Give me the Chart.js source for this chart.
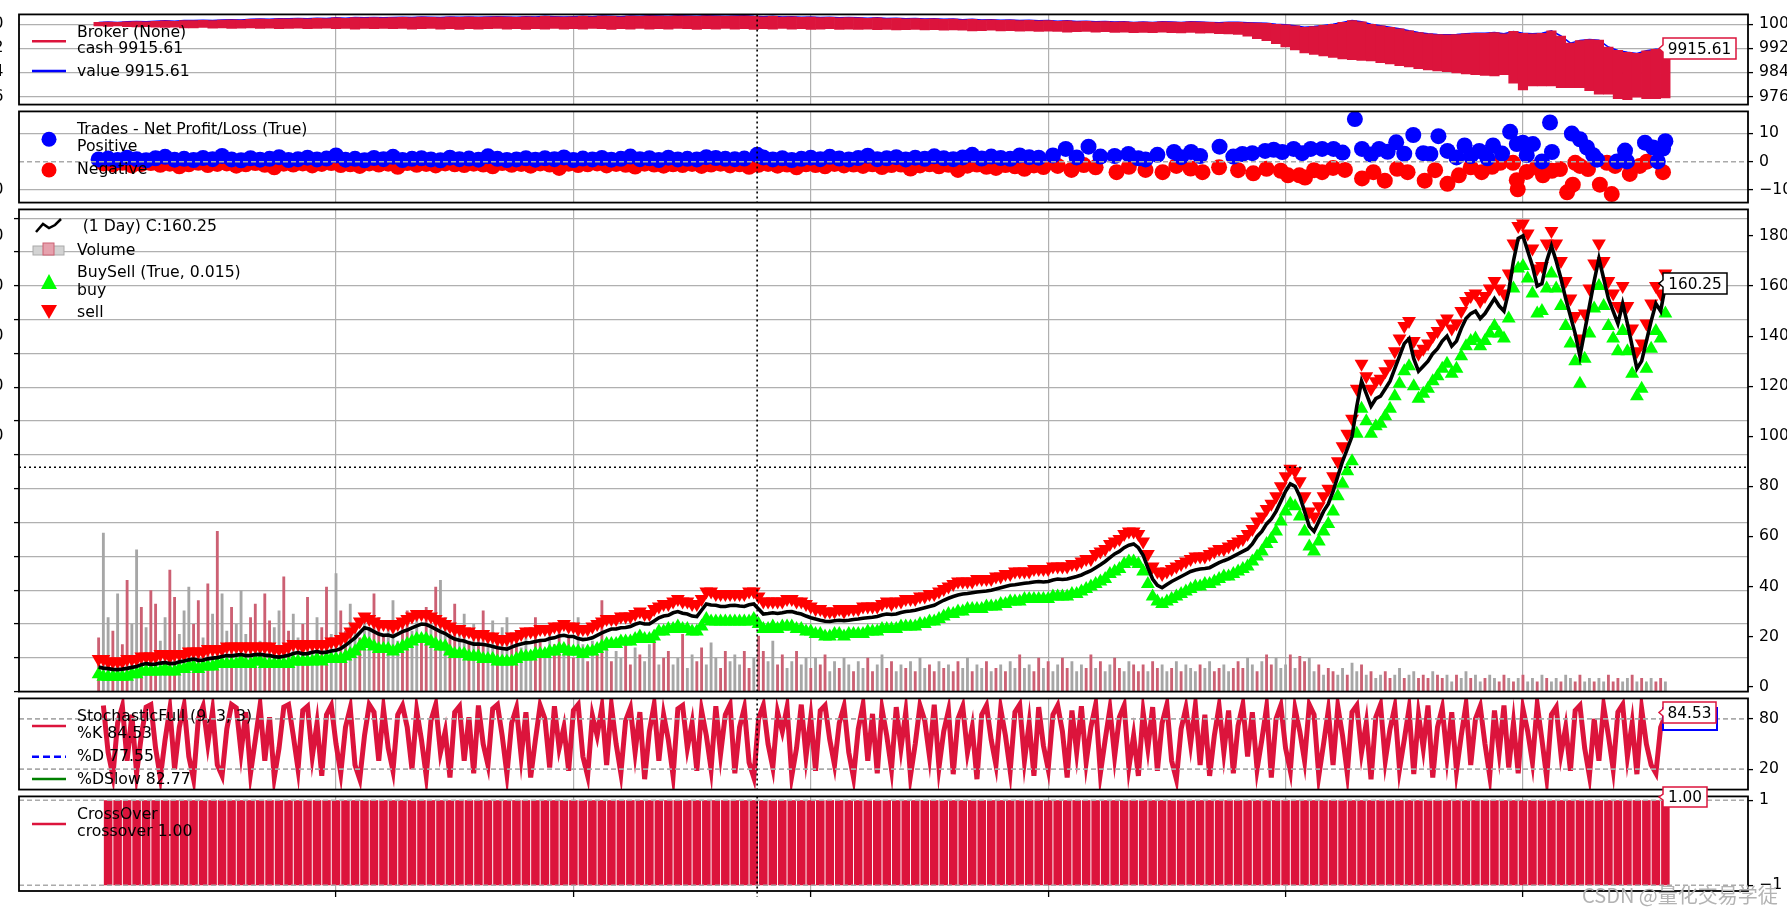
<!DOCTYPE html>
<html>
<head>
<meta charset="utf-8">
<script src="https://cdn.jsdelivr.net/npm/chart.js@4.4.1/dist/chart.umd.min.js"></script>
<style>
  body { margin: 0; background: #fff; width: 1787px; height: 914px; overflow: hidden; position: relative; }
  canvas { position: absolute; left: 0; }
  #ov { position: absolute; left: 0; top: 0; }
</style>
</head>
<body>
<canvas id="pBroker"></canvas>
<canvas id="pTrades"></canvas>
<canvas id="pPrice"></canvas>
<canvas id="pStoch"></canvas>
<canvas id="pCross"></canvas>

<svg id="ov" width="1787" height="914" font-family="DejaVu Sans" font-size="15.7">
  <!-- broker legend -->
  <line x1="32" y1="41.3" x2="66" y2="41.3" stroke="#dc143c" stroke-width="2.5"/>
  <text x="77" y="31.7" dominant-baseline="central">Broker (None)</text>
  <text x="77" y="47.7" dominant-baseline="central">cash 9915.61</text>
  <line x1="32" y1="71" x2="66" y2="71" stroke="#0000ff" stroke-width="2.5"/>
  <text x="77" y="70" dominant-baseline="central">value 9915.61</text>
  <!-- trades legend -->
  <text x="77" y="128.3" dominant-baseline="central">Trades - Net Profit/Loss (True)</text>
  <circle cx="49" cy="139.3" r="7.5" fill="#0000ff"/>
  <text x="77" y="145.7" dominant-baseline="central">Positive</text>
  <circle cx="49" cy="170" r="7.5" fill="#ff0000"/>
  <text x="77" y="168.3" dominant-baseline="central">Negative</text>
  <!-- price legend -->
  <polyline points="36,232 43,224 49,228 55,225 61,219" fill="none" stroke="#000" stroke-width="2.5"/>
  <text x="82.7" y="225.7" dominant-baseline="central">(1 Day) C:160.25</text>
  <rect x="33" y="246" width="31" height="9" fill="#d3d3d3" stroke="#aaaaaa" stroke-width="1"/>
  <rect x="43" y="243" width="11" height="12" fill="#e6a1ad" stroke="#cc6073" stroke-width="1"/>
  <text x="77" y="249.3" dominant-baseline="central">Volume</text>
  <text x="77" y="271" dominant-baseline="central">BuySell (True, 0.015)</text>
  <polygon points="49,274 57,289 41,289" fill="#00ff00"/>
  <text x="77" y="289.3" dominant-baseline="central">buy</text>
  <polygon points="41,305 57,305 49,319" fill="#ff0000"/>
  <text x="77" y="311.7" dominant-baseline="central">sell</text>
  <!-- stochastic legend -->
  <text x="77" y="715" dominant-baseline="central">StochasticFull (9, 3, 3)</text>
  <line x1="32" y1="726" x2="66" y2="726" stroke="#dc143c" stroke-width="2.5"/>
  <text x="77" y="732.3" dominant-baseline="central">%K 84.53</text>
  <line x1="32" y1="756.7" x2="66" y2="756.7" stroke="#0000ff" stroke-width="2.5" stroke-dasharray="7,4"/>
  <text x="77" y="755" dominant-baseline="central">%D 77.55</text>
  <line x1="32" y1="779" x2="66" y2="779" stroke="#008000" stroke-width="2.5"/>
  <text x="77" y="778.3" dominant-baseline="central">%DSlow 82.77</text>
  <!-- crossover legend -->
  <line x1="32" y1="824" x2="66" y2="824" stroke="#dc143c" stroke-width="2.5"/>
  <text x="77" y="813.3" dominant-baseline="central">CrossOver</text>
  <text x="77" y="830" dominant-baseline="central">crossover 1.00</text>

  <!-- last value tags -->
  <g font-size="15.3">
    <polygon points="1663,38 1736,38 1736,59 1663,59 1663,52 1659,48.5 1663,45" fill="#fff" stroke="#dc143c" stroke-width="1.5"/>
    <text x="1699.5" y="48.5" text-anchor="middle" dominant-baseline="central">9915.61</text>
    <polygon points="1663,273 1727,273 1727,294 1663,294 1663,287 1659,283.5 1663,280" fill="#fff" stroke="#000" stroke-width="1.5"/>
    <text x="1695" y="283.5" text-anchor="middle" dominant-baseline="central">160.25</text>
    <polygon points="1663,708 1717,708 1717,730 1663,730" fill="#fff" stroke="#0000ff" stroke-width="2"/>
    <polygon points="1663,702 1716,702 1716,723 1663,723 1663,716 1659,712.5 1663,709" fill="#fff" stroke="#dc143c" stroke-width="1.5"/>
    <text x="1689.5" y="712.5" text-anchor="middle" dominant-baseline="central">84.53</text>
    <polygon points="1663,787 1707,787 1707,807 1663,807 1663,800 1659,797 1663,794" fill="#fff" stroke="#dc143c" stroke-width="1.5"/>
    <text x="1685" y="797" text-anchor="middle" dominant-baseline="central">1.00</text>
  </g>
  <text x="1582" y="894" font-family="Noto Sans CJK SC" font-size="20" fill="#b3b3b3" dominant-baseline="central">CSDN @量化交易学徒</text>
</svg>

<script>
// sampling of the bar index (x axis is the bar number, 0 … 3300)
const STEP = 10;    // close, buy/sell, volume, stochastic
const BSTEP = 20;   // broker, crossover

const close = [
  7.8, 7.4, 7.2, 6.9, 6.8, 7.0, 7.3, 7.7, 8.0, 8.8,
  9.2, 8.9, 9.0, 9.4, 9.6, 9.2, 9.3, 9.9, 10.2, 10.7,
  11.0, 10.5, 10.6, 11.1, 11.4, 11.6, 12.0, 12.4, 12.3, 12.6,
  12.8, 12.4, 12.5, 12.8, 12.9, 12.6, 12.4, 12.0, 11.8, 12.1,
  12.5, 13.2, 13.6, 13.1, 13.2, 13.7, 14.0, 13.6, 13.8, 14.2,
  14.5, 15.2, 16.5, 18.0, 19.5, 21.5, 23.5, 23.0, 22.0, 21.0,
  20.5, 20.6, 20.0, 21.0, 22.0, 22.6, 23.5, 24.3, 25.0, 24.8,
  24.0, 23.0, 22.0, 21.2, 20.0, 19.0, 18.5, 18.2, 17.5, 17.0,
  17.0, 16.8, 16.5, 16.0, 15.5, 15.2, 15.0, 15.8, 16.5, 17.0,
  17.5, 17.6, 18.0, 18.4, 18.5, 19.2, 19.5, 20.2, 20.5, 20.0,
  20.0, 19.2, 18.8, 19.0, 19.5, 20.5, 21.5, 22.3, 23.0, 23.0,
  23.5, 23.6, 24.0, 24.9, 25.5, 25.0, 25.0, 26.2, 27.5, 28.2,
  28.5, 29.5, 30.0, 29.3, 29.0, 28.2, 28.0, 30.5, 33.0, 32.6,
  32.5, 32.0, 32.0, 32.4, 32.5, 32.2, 32.0, 32.7, 33.0, 31.0,
  29.0, 29.2, 29.5, 29.2, 29.5, 29.9, 30.0, 29.4, 29.0, 28.2,
  27.5, 27.0, 26.5, 26.1, 26.0, 26.3, 26.5, 26.3, 26.5, 26.8,
  27.0, 27.3, 27.5, 27.7, 28.0, 28.6, 29.0, 28.8, 29.0, 29.6,
  30.0, 30.2, 30.5, 31.0, 31.5, 32.0, 32.5, 33.5, 34.5, 35.3,
  36.0, 36.6, 37.0, 37.2, 37.5, 37.8, 38.0, 38.2, 38.5, 39.0,
  39.5, 40.0, 40.5, 40.7, 41.0, 41.3, 41.5, 41.8, 42.0, 41.8,
  42.0, 42.6, 43.0, 42.8, 43.0, 43.5, 44.0, 44.6, 45.5, 46.3,
  47.5, 48.7, 50.0, 51.5, 53.0, 54.0, 55.5, 56.5, 57.0, 55.5,
  52.5, 47.5, 43.0, 40.5, 39.5, 40.8, 42.0, 43.0, 44.0, 45.0,
  46.0, 46.6, 47.0, 47.2, 47.5, 48.5, 49.5, 50.3, 51.0, 52.0,
  53, 54, 55, 57, 60, 62, 65, 67, 70, 74,
  78, 81, 80, 76, 70, 64, 62, 66, 70, 73,
  78, 84, 90, 95, 100, 112, 122, 117, 112, 115,
  116, 119, 122, 127, 132, 137, 139, 131, 126, 128,
  130, 133, 135, 138, 140, 136, 138, 143, 147, 149,
  150, 147, 149, 152, 155, 152, 150, 158, 170, 179,
  180, 174, 168, 160, 161, 170, 176, 170, 163, 155,
  148, 141, 132, 142, 152, 162, 171, 163, 155, 150,
  145, 153, 145, 136, 127, 130, 138, 146, 153, 150,
  160.25
];
const sellMark = [
  11, 11, 10, 10, 10, 10, 11, 11, 11, 12,
  12, 12, 12, 13, 13, 12, 13, 13, 13, 14,
  14, 14, 14, 15, 15, 15, 15, 16, 16, 16,
  16, 16, 16, 16, 16, 16, 16, 15, 15, 15,
  16, 17, 17, 16, 17, 17, 17, 17, 17, 18,
  18, 19, 20, 22, 24, 26, 28, 27, 26, 25,
  25, 25, 24, 25, 26, 27, 28, 29, 29, 29,
  28, 27, 26, 25, 24, 23, 23, 22, 22, 21,
  21, 21, 20, 20, 19, 19, 19, 20, 20, 21,
  22, 22, 22, 23, 23, 23, 24, 24, 25, 24,
  24, 23, 23, 23, 24, 25, 26, 27, 27, 27,
  28, 28, 28, 29, 30, 29, 29, 31, 32, 33,
  33, 34, 35, 34, 34, 33, 33, 35, 38, 38,
  37, 37, 37, 37, 37, 37, 37, 38, 38, 36,
  34, 34, 34, 34, 34, 35, 35, 34, 34, 33,
  32, 31, 31, 30, 30, 30, 31, 30, 31, 31,
  31, 32, 32, 32, 32, 33, 34, 33, 34, 34,
  35, 35, 35, 36, 36, 37, 37, 38, 39, 40,
  41, 42, 42, 42, 42, 43, 43, 43, 43, 44,
  44, 45, 45, 46, 46, 46, 46, 47, 47, 47,
  47, 48, 48, 48, 48, 49, 49, 50, 51, 51,
  53, 54, 55, 57, 58, 59, 61, 62, 62, 61,
  58, 53, 48, 46, 45, 46, 47, 48, 49, 50,
  51, 52, 52, 52, 53, 54, 55, 55, 56, 57,
  58, 59, 61, 63, 66, 68, 71, 73, 76, 80,
  84, 87, 86, 82, 76, 70, 68, 72, 76, 79,
  84, 90, 96, 101, 107, 119, 129, 124, 119, 122,
  123, 126, 129, 134, 139, 144, 146, 138, 133, 135,
  137, 140, 142, 145, 147, 143, 145, 150, 154, 156,
  157, 154, 156, 159, 162, 159, 157, 165, 177, 184,
  185, 181, 175, 167, 168, 177, 182, 177, 170, 162,
  155, 148, 139, 149, 159, 169, 177, 170, 162, 157,
  152, 160, 152, 143, 134, 137, 145, 153, 160, 157,
  165
];
const buyMark = [
  5, 4, 4, 4, 4, 4, 4, 5, 5, 6,
  6, 6, 6, 6, 7, 6, 6, 7, 7, 8,
  8, 7, 8, 8, 8, 9, 9, 9, 9, 9,
  10, 9, 9, 10, 10, 9, 9, 9, 9, 9,
  9, 10, 10, 10, 10, 10, 11, 10, 11, 11,
  11, 11, 12, 13, 14, 16, 18, 17, 16, 15,
  15, 15, 14, 15, 16, 17, 18, 19, 19, 19,
  18, 17, 16, 16, 14, 13, 13, 13, 12, 12,
  12, 11, 11, 11, 10, 10, 10, 10, 11, 12,
  12, 12, 13, 13, 13, 14, 14, 15, 15, 14,
  14, 14, 13, 14, 14, 15, 16, 17, 17, 17,
  18, 18, 18, 19, 20, 19, 19, 20, 22, 22,
  23, 23, 24, 23, 23, 22, 22, 24, 27, 26,
  26, 26, 26, 26, 26, 26, 26, 26, 27, 25,
  23, 23, 24, 23, 24, 24, 24, 23, 23, 22,
  22, 21, 21, 20, 20, 21, 21, 20, 21, 21,
  21, 21, 22, 22, 22, 23, 23, 23, 23, 24,
  24, 24, 24, 25, 25, 26, 26, 27, 28, 29,
  29, 30, 30, 31, 31, 31, 31, 32, 32, 32,
  33, 33, 34, 34, 34, 35, 35, 35, 35, 35,
  35, 36, 36, 36, 36, 37, 37, 38, 39, 40,
  41, 42, 43, 45, 46, 47, 49, 50, 50, 49,
  46, 41, 36, 34, 33, 34, 35, 36, 37, 38,
  39, 40, 40, 41, 41, 42, 43, 44, 44, 45,
  46, 47, 48, 50, 52, 54, 57, 59, 62, 66,
  70, 73, 72, 68, 62, 56, 54, 58, 62, 65,
  70, 76, 81, 86, 90, 101, 111, 106, 101, 104,
  105, 108, 111, 116, 121, 126, 128, 120, 115, 117,
  119, 122, 124, 127, 129, 125, 127, 132, 136, 138,
  139, 136, 138, 141, 144, 141, 139, 147, 159, 167,
  168, 163, 157, 149, 150, 159, 165, 159, 152, 144,
  137, 130, 121, 131, 141, 151, 160, 152, 144, 139,
  134, 142, 134, 125, 116, 119, 127, 135, 142, 139,
  149
];

// volume in units of the left (volume) axis
const volume = [
  1.6, 4.7, 2.2, 1.8, 2.9, 1.4, 3.3, 2.0, 4.2, 2.5,
  1.9, 3.0, 2.6, 1.5, 2.2, 3.6, 2.8, 1.7, 2.4, 3.1,
  2.0, 2.7, 1.6, 3.2, 2.3, 4.75, 2.9, 1.8, 2.5, 2.0,
  3.0, 1.7, 2.2, 2.6, 1.5, 2.9, 2.1, 1.9, 2.4, 3.4,
  1.8, 2.3, 1.6, 2.0, 2.8, 1.5, 2.2, 1.9, 3.1, 1.7,
  3.5, 2.4, 1.8, 2.6, 2.0, 1.6, 2.3, 1.9, 2.9, 2.2,
  1.7, 2.1, 2.7, 1.5, 2.0, 2.4, 1.8, 2.2, 1.6, 2.5,
  2.0, 3.1, 3.3, 2.2, 1.7, 2.6, 1.9, 2.3, 1.5, 2.0,
  1.8, 2.4, 1.6, 2.1, 1.4, 1.9, 2.2, 1.5, 1.8, 1.3,
  1.7, 1.2, 2.2, 1.5, 1.1, 1.8, 1.4, 2.0, 1.2, 1.6,
  1.0, 2.2, 1.4, 0.9, 1.5, 1.1, 2.7, 1.3, 0.9, 1.2,
  1.0, 1.6, 0.8, 1.3, 1.1, 0.9, 1.4, 1.7, 0.8, 1.0,
  1.2, 0.8, 1.0, 1.7, 0.7, 1.1, 0.9, 1.3, 0.8, 1.45,
  1.0, 0.7, 1.2, 0.9, 1.1, 0.8, 1.2, 0.7, 1.0, 1.65,
  1.2, 0.9, 1.5, 0.8, 1.1, 0.7, 0.9, 1.2, 0.8, 1.0,
  0.7, 1.0, 0.8, 1.1, 0.6, 0.9, 0.7, 1.0, 0.8, 0.6,
  0.9, 0.7, 1.0, 0.6, 0.8, 1.1, 0.7, 0.9, 0.6, 0.8,
  0.7, 0.9, 0.6, 1.0, 0.7, 0.8, 0.6, 0.9, 0.7, 0.8,
  0.6, 0.9, 0.7, 1.0, 0.6, 0.8, 0.7, 0.9, 0.6, 0.7,
  0.8, 0.6, 0.9, 0.7, 1.1, 0.7, 0.8, 0.6, 1.0, 0.7,
  0.9, 0.6, 0.8, 1.0, 0.7, 0.9, 0.6, 0.8, 0.7, 1.1,
  0.7, 0.9, 0.6, 0.8, 1.0, 0.7, 0.6, 0.9, 0.8, 0.6,
  0.8, 0.6, 0.9, 0.7, 0.8, 0.6, 0.7, 0.9, 0.6, 0.8,
  0.7, 0.6, 0.8, 0.7, 0.9, 0.6, 0.7, 0.8, 0.6, 0.7,
  0.9, 0.7, 1.0, 0.8, 0.6, 0.9, 1.1, 0.8, 1.0, 0.7,
  0.8, 1.1, 0.7, 1.05, 0.9, 1.0, 0.6, 0.8, 0.5, 0.7,
  0.6, 0.5, 0.7, 0.5, 0.85, 0.6, 0.8, 0.5, 0.6, 0.4,
  0.5, 0.6, 0.4, 0.5, 0.7, 0.4, 0.5, 0.6, 0.4, 0.5,
  0.4, 0.6, 0.5, 0.4, 0.5, 0.3, 0.5, 0.4, 0.6, 0.4,
  0.5, 0.3, 0.4, 0.5, 0.4, 0.3, 0.5, 0.4, 0.3, 0.4,
  0.5, 0.3, 0.4, 0.3, 0.5, 0.4, 0.3, 0.4, 0.3, 0.5,
  0.4, 0.3, 0.5, 0.3, 0.4, 0.3, 0.4, 0.3, 0.5, 0.3,
  0.4, 0.3, 0.4, 0.5, 0.3, 0.4, 0.3, 0.4, 0.3, 0.4, 0.3
];
// u = up day (red bar), d = down day (grey bar)
const volDir =
  'udduduuddu' + 'duudduuddd' + 'uudududdud' + 'dduuduuddu' + 'udduudduud' +
  'duuddudduu' + 'uddduudduu' + 'dudduuddud' + 'uuddudduud' + 'dduudduudu' +
  'udduduudud' + 'duududdudu' + 'uddudduudd' + 'duuddduudu' + 'udduuddudd' +
  'uduudduddu' + 'dduudduudd' + 'ududduudud' + 'uudduddudu' + 'duddudduud' +
  'udduuddduu' + 'dudduudduu' + 'uduuddudud' + 'ddudduuddu' + 'uudduduudd' +
  'duduuddudu' + 'udduddudud' + 'duuddudduu' + 'uduudduddu' + 'ddudduudud' +
  'uddududdud' + 'duuddudduu' + 'uddududduu' + 'd';

// broker: value (top of band) and cash while in the market (bottom of band)
const brokerValue = [
  10006, 10007, 10006, 10008, 10009, 10008, 10010, 10011, 10010, 10012,
  10012, 10013, 10012, 10014, 10015, 10014, 10016, 10017, 10016, 10018,
  10018, 10019, 10018, 10020, 10019, 10021, 10020, 10022, 10021, 10022,
  10021, 10022, 10023, 10022, 10024, 10023, 10022, 10024, 10023, 10024,
  10023, 10024, 10025, 10024, 10023, 10025, 10024, 10026, 10025, 10024,
  10025, 10026, 10025, 10027, 10026, 10025, 10027, 10026, 10028, 10027,
  10026, 10028, 10027, 10026, 10028, 10027, 10026, 10027, 10028, 10026,
  10025, 10026, 10024, 10025, 10023, 10024, 10022, 10023, 10021, 10022,
  10021, 10020, 10021, 10019, 10020, 10018, 10019, 10017, 10018, 10016,
  10017, 10015, 10016, 10014, 10015, 10013, 10014, 10012, 10013, 10011,
  10012, 10010, 10011, 10009, 10010, 10008, 10009, 10007, 10008, 10006,
  10007, 10006, 10008, 10007, 10006, 10008, 10007, 10006, 10005, 10006,
  10006, 10005, 10004, 10003, 10000, 9998, 9995, 9990, 9992, 9996,
  10000, 10006, 10012, 10008, 10000, 9995, 9990, 9985, 9978, 9972,
  9968, 9966, 9965, 9966, 9968, 9970, 9970, 9972,
  9968, 9976, 9970, 9968, 9970, 9978, 9961, 9937, 9946, 9949, 9947, 9924, 9913, 9907, 9903, 9912, 9917, 9916
];
const brokerCashLow = [
  9994, 9993, 9994, 9992, 9991, 9992, 9990, 9989, 9990, 9988,
  9988, 9989, 9987, 9988, 9986, 9987, 9988, 9986, 9987, 9985,
  9986, 9987, 9985, 9986, 9987, 9985, 9986, 9984, 9986, 9985,
  9986, 9985, 9986, 9984, 9985, 9986, 9984, 9985, 9983, 9985,
  9984, 9985, 9986, 9984, 9985, 9983, 9985, 9984, 9986, 9984,
  9985, 9984, 9986, 9985, 9983, 9985, 9984, 9986, 9984, 9985,
  9984, 9986, 9985, 9983, 9985, 9984, 9986, 9984, 9985, 9983,
  9985, 9984, 9986, 9984, 9985, 9983, 9984, 9985, 9983, 9984,
  9983, 9984, 9982, 9983, 9981, 9982, 9983, 9981, 9982, 9980,
  9981, 9980, 9978, 9979, 9980, 9978, 9979, 9977, 9978, 9976,
  9977, 9976, 9974, 9975, 9976, 9974, 9975, 9973, 9974, 9972,
  9973, 9972, 9974, 9972, 9971, 9973, 9970, 9971, 9969, 9968,
  9966, 9960, 9952, 9945, 9935, 9925, 9915, 9905, 9900, 9895,
  9890, 9885, 9882, 9880, 9878, 9872, 9868, 9862, 9858, 9852,
  9848, 9845, 9842, 9838, 9835, 9832, 9830, 9828,
  9832, 9804, 9782, 9795, 9795, 9795, 9789, 9789, 9789, 9779, 9768, 9768, 9753, 9749, 9758, 9753, 9753, 9755
];

// trades: bar index and net profit/loss
const posBar = [
  0, 20, 40, 60, 80, 100, 120, 140, 160, 180, 200, 220, 240, 260, 280, 300, 320, 340, 360, 380,
  400, 420, 440, 460, 480, 500, 520, 540, 560, 580, 600, 620, 640, 660, 680, 700, 720, 740, 760, 780,
  800, 820, 840, 860, 880, 900, 920, 940, 960, 980, 1000, 1020, 1040, 1060, 1080, 1100, 1120, 1140, 1160, 1180,
  1200, 1220, 1240, 1260, 1280, 1300, 1320, 1340, 1360, 1387, 1400, 1420, 1440, 1460, 1480, 1500, 1520, 1540, 1560, 1580,
  1600, 1620, 1640, 1660, 1680, 1700, 1720, 1740, 1760, 1780, 1800, 1820, 1840, 1860, 1880, 1900, 1920, 1940, 1960, 1980,
  2010, 2037, 2060, 2085, 2110, 2140, 2169, 2190, 2205, 2230, 2265, 2280, 2301, 2320, 2361, 2390, 2409, 2430, 2457, 2475,
  2493, 2517, 2535, 2553, 2577, 2601, 2620, 2646, 2661, 2680, 2697, 2715, 2733, 2750, 2769, 2790, 2805, 2822, 2841, 2860,
  2877, 2890, 2908, 2925, 2937,
  2956, 2973, 2987, 3000, 3008, 3021, 3040, 3057, 3061, 3103, 3120, 3135, 3148, 3156, 3198, 3215, 3219, 3257, 3274, 3284,
  3295, 3300
];
const posPnl = [
  0.8, 1.1, 0.6, 1.4, 0.9, 0.5, 1.2, 1.7, 0.7, 1.0, 0.6, 1.3, 0.9, 2.0, 0.8, 0.5, 1.2, 0.7, 1.0, 1.6,
  0.6, 0.9, 1.4, 0.8, 1.1, 2.2, 0.7, 1.0, 0.5, 1.3, 0.9, 1.7, 0.6, 1.0, 1.2, 0.8, 0.5, 1.4, 0.9, 1.1,
  0.7, 1.9, 1.0, 0.6, 0.8, 1.2, 0.7, 1.2, 0.9, 1.5, 0.6, 1.1, 0.8, 1.3, 0.7, 1.0, 1.8, 0.9, 1.2, 0.6,
  1.4, 0.8, 1.0, 0.8, 1.6, 1.3, 1.0, 0.9, 1.1, 2.4, 1.5, 0.8, 1.2, 0.6, 1.0, 1.4, 0.9, 1.7, 1.1, 0.8,
  1.3, 2.1, 0.9, 1.2, 1.6, 0.8, 1.4, 1.0, 1.9, 1.2, 0.9, 1.5, 2.4, 1.1, 1.8, 1.3, 1.0, 2.2, 1.6, 1.4,
  2.2, 4.5, 1.5, 5.3, 1.8, 2.0, 2.7, 1.2, 0.8, 2.4, 3.4, 1.6, 3.4, 2.0, 5.3, 1.8, 2.7, 3.0, 3.8, 4.2,
  3.4, 4.5, 3.0, 4.5, 4.5, 4.5, 3.2, 15.0, 4.5, 2.5, 4.5, 3.5, 6.8, 2.8, 9.4, 3.0, 2.7, 9.0, 3.8, 1.5,
  5.7, 2.0, 3.8, 1.2, 5.7,
  2.85, 10.5, 6.2, 6.7, 2.3, 6.2, 0.1, 13.8, 3.4, 9.9, 7.9, 5.0, 2.3, 0.7, 0.1, 3.9, 0.1, 6.7, 5.0, 0.1,
  4.6, 7.2
];
const negBar = [
  10, 30, 50, 70, 90, 110, 130, 150, 170, 190, 210, 230, 250, 270, 290, 310, 330, 350, 370, 390,
  410, 430, 450, 470, 490, 510, 530, 550, 570, 590, 610, 630, 650, 670, 690, 710, 730, 750, 770, 790,
  810, 830, 850, 870, 890, 910, 930, 950, 970, 990, 1010, 1030, 1050, 1070, 1090, 1110, 1130, 1150, 1170, 1190,
  1210, 1230, 1250, 1270, 1290, 1310, 1330, 1350, 1370, 1390, 1410, 1430, 1450, 1470, 1490, 1510, 1530, 1550, 1570, 1590,
  1610, 1630, 1650, 1670, 1690, 1710, 1730, 1750, 1770, 1790, 1810, 1830, 1850, 1870, 1890, 1910, 1930, 1950, 1970, 1990,
  2020, 2049, 2075, 2100, 2144, 2170, 2205, 2241, 2270, 2300, 2325, 2360, 2400, 2432, 2460, 2490, 2505, 2529, 2541, 2560,
  2577, 2600, 2625, 2661, 2685, 2709, 2735, 2757, 2793, 2815, 2841, 2865, 2890, 2913, 2935,
  2952, 2979, 2987, 2989, 3008, 3029, 3042, 3061, 3078, 3093, 3105, 3110, 3120, 3137, 3162, 3177, 3187, 3194, 3225, 3246,
  3261, 3295
];
const negPnl = [
  -0.6, -1.0, -0.4, -1.3, -0.8, -0.5, -1.1, -0.7, -1.6, -0.9, -0.4, -1.2, -0.8, -0.6, -1.4, -0.9, -0.5, -1.1, -2.0, -0.7,
  -1.0, -0.6, -1.3, -0.8, -0.5, -1.2, -0.9, -1.5, -0.6, -1.0, -0.7, -1.8, -0.5, -1.1, -0.8, -1.3, -0.6, -0.9, -1.2, -0.7,
  -1.0, -1.6, -0.5, -1.1, -0.8, -1.4, -0.6, -1.0, -2.2, -0.7, -1.2, -0.9, -0.6, -1.3, -0.8, -1.1, -1.7, -0.7, -1.0, -1.4,
  -0.9, -1.2, -0.8, -1.5, -1.0, -0.7, -1.3, -0.9, -1.8, -1.1, -0.8, -1.4, -1.0, -2.0, -0.9, -1.2, -1.6, -0.8, -1.3, -1.0,
  -1.5, -0.9, -1.9, -1.2, -1.0, -2.4, -1.3, -0.9, -1.6, -1.1, -2.9, -1.4, -1.0, -1.8, -2.2, -1.2, -1.6, -2.5, -1.3, -1.9,
  -1.5, -2.9, -1.2, -2.0, -3.7, -1.8, -2.9, -3.7, -1.5, -2.4, -3.7, -2.0, -3.0, -4.1, -2.5, -3.2, -4.8, -4.8, -5.6, -3.0,
  -3.7, -2.2, -2.9, -5.9, -3.7, -6.7, -2.5, -3.7, -6.7, -3.0, -7.8, -4.8, -2.0, -3.7, -1.8,
  -0.4, -0.4, -6.5, -9.7, -3.6, -2.0, -4.8, -3.2, -2.6, -10.8, -8.1, -0.4, -1.5, -2.6, -8.1, -0.4, -11.4, -1.5, -4.3, -1.5,
  0.0, -3.7
];

// stochastic %K (first sample is still in the warm-up window)
const stochK = [
  null, 96, 40, 12, 75, 95, 30, 85, 15, 60,
  94, 97, 45, 10, 55, 92, 20, 70, 96, 35,
  8, 80, 95, 50, 90, 25, 12, 68, 97, 93,
  40, 88, 15, 55, 96, 30, 82, 10, 45, 94,
  97, 60, 20, 90, 95, 35, 75, 12, 85, 96,
  50, 15, 70, 93, 25, 8, 60, 97, 88, 30,
  92, 45, 18, 85, 96, 70, 20, 90, 55, 12,
  78, 97, 40, 65, 10, 88, 95, 30, 82, 15,
  96, 50, 25, 92, 97, 60, 14, 75, 93, 35,
  88, 10, 55, 96, 80, 22, 95, 45, 70, 18,
  90, 97, 35, 12, 84, 60, 94, 25, 96, 50,
  15, 78, 93, 40, 88, 8, 65, 97, 30, 85,
  55, 12, 92, 96, 45, 75, 18, 90, 60, 20,
  95, 38, 85, 97, 15, 70, 93, 28, 10, 80,
  96, 50, 22, 88, 65, 94, 12, 45, 97, 35,
  82, 18, 90, 96, 55, 25, 75, 95, 40, 10,
  68, 97, 30, 86, 15, 92, 60, 20, 94, 45,
  88, 12, 50, 96, 78, 35, 97, 22, 65, 90,
  14, 80, 95, 40, 70, 8, 85, 96, 55, 25,
  92, 60, 18, 88, 97, 30, 75, 12, 94, 48,
  20, 85, 96, 65, 10, 90, 40, 95, 28, 70,
  97, 15, 55, 92, 35, 82, 96, 22, 60, 12,
  88, 45, 94, 18, 75, 97, 30, 8, 68, 93,
  50, 96, 25, 85, 12, 60, 95, 40, 90, 15,
  72, 97, 35, 88, 20, 55, 94, 10, 80, 96,
  45, 18, 92, 65, 30, 97, 85, 12, 50, 90,
  25, 95, 60, 15, 88, 96, 40, 75, 8, 82,
  97, 30, 68, 94, 20, 55, 92, 14, 85, 45,
  96, 10, 70, 93, 35, 88, 18, 60, 97, 25,
  80, 95, 50, 12, 90, 40, 96, 22, 75, 15,
  92, 65, 28, 97, 55, 10, 85, 94, 38, 70,
  18, 90, 96, 45, 12, 80, 30, 95, 60, 20,
  88, 97, 35, 75, 14, 92, 50, 25, 15, 70,
  84.53
];

// crossover: range swept by the signal within each sample (none during warm-up)
const crossHi = [
  null, 1, 1, 1, 1, 1, 1, 1, 1, 1, 1, 1, 1, 1, 1, 1, 1, 1, 1, 1,
  1, 1, 1, 1, 1, 1, 1, 1, 1, 1, 1, 1, 1, 1, 1, 1, 1, 1, 1, 1,
  1, 1, 1, 1, 1, 1, 1, 1, 1, 1, 1, 1, 1, 1, 1, 1, 1, 1, 1, 1,
  1, 1, 1, 1, 1, 1, 1, 1, 1, 1, 1, 1, 1, 1, 1, 1, 1, 1, 1, 1,
  1, 1, 1, 1, 1, 1, 1, 1, 1, 1, 1, 1, 1, 1, 1, 1, 1, 1, 1, 1,
  1, 1, 1, 1, 1, 1, 1, 1, 1, 1, 1, 1, 1, 1, 1, 1, 1, 1, 1, 1,
  1, 1, 1, 1, 1, 1, 1, 1, 1, 1, 1, 1, 1, 1, 1, 1, 1, 1, 1, 1,
  1, 1, 1, 1, 1, 1, 1, 1, 1, 1, 1, 1, 1, 1, 1, 1, 1, 1, 1, 1,
  1, 1, 1, 1, 1, 1
];
const crossLo = [
  null, -1, -1, -1, -1, -1, -1, -1, -1, -1, -1, -1, -1, -1, -1, -1, -1, -1, -1, -1,
  -1, -1, -1, -1, -1, -1, -1, -1, -1, -1, -1, -1, -1, -1, -1, -1, -1, -1, -1, -1,
  -1, -1, -1, -1, -1, -1, -1, -1, -1, -1, -1, -1, -1, -1, -1, -1, -1, -1, -1, -1,
  -1, -1, -1, -1, -1, -1, -1, -1, -1, -1, -1, -1, -1, -1, -1, -1, -1, -1, -1, -1,
  -1, -1, -1, -1, -1, -1, -1, -1, -1, -1, -1, -1, -1, -1, -1, -1, -1, -1, -1, -1,
  -1, -1, -1, -1, -1, -1, -1, -1, -1, -1, -1, -1, -1, -1, -1, -1, -1, -1, -1, -1,
  -1, -1, -1, -1, -1, -1, -1, -1, -1, -1, -1, -1, -1, -1, -1, -1, -1, -1, -1, -1,
  -1, -1, -1, -1, -1, -1, -1, -1, -1, -1, -1, -1, -1, -1, -1, -1, -1, -1, -1, -1,
  -1, -1, -1, -1, -1, -1
];

// axis ticks
const xTickVals = [500, 1000, 1500, 2000, 2500, 3000];
const brokerTicks = [10000, 9920, 9840, 9760];
const tradeTicks = [10, 0, -10];
const priceTicks = [0, 20, 40, 60, 80, 100, 120, 140, 160, 180];
const volTicks = [0, 1, 2, 3, 4, 5, 6, 7, 8, 9, 10, 11, 12, 13, 14];
const stochTicks = [20, 80];
const crossTicks = [1, -1];

const CURSOR_BAR = 1387, CURSOR_PRICE = 87.6;
const CRIMSON = '#dc143c', GRID = '#b0b0b0', DASHGREY = '#aaaaaa';

Chart.defaults.font.family = "'DejaVu Sans'";
Chart.defaults.color = '#000';

const fmt = v => (v < 0 ? '\u2212' + (-v) : String(v));
const series = (arr, step) => arr.map((v, i) => ({ x: i * step, y: v }));

function xScale(last) {
  return {
    type: 'linear', min: -167.7, max: 3474, offset: false,
    afterBuildTicks: s => { s.ticks = xTickVals.map(v => ({ value: v })); },
    ticks: { display: false },
    grid: { offset: false, color: GRID, lineWidth: 1.2, drawTicks: last, tickLength: 6,
            tickColor: '#000', tickWidth: 1.3 },
    border: { display: false },
    afterFit: s => { s.height = last ? 6 : 0; }
  };
}
function rightScale(min, max, vals, gridColor) {
  return {
    position: 'right', min, max,
    afterBuildTicks: s => { s.ticks = vals.map(v => ({ value: v })); },
    ticks: { font: { size: 15.7 }, padding: 6, callback: v => fmt(v) },
    grid: { drawOnChartArea: !!gridColor, color: gridColor || GRID, lineWidth: 1.2,
            tickLength: 5, tickColor: '#000', tickWidth: 1.3 },
    border: { display: false },
    afterFit: s => { s.width = 39; }
  };
}

// frame, reference lines, cursor and clipped left labels
const deco = {
  id: 'deco',
  afterDatasetsDraw(chart, _args, o) {
    const { ctx, chartArea: a, scales } = chart;
    ctx.save();
    (o.hlines || []).forEach(h => {
      const y = scales[h.axis].getPixelForValue(h.v);
      ctx.strokeStyle = DASHGREY; ctx.lineWidth = 1.6; ctx.setLineDash([5, 3]);
      ctx.beginPath(); ctx.moveTo(a.left, y); ctx.lineTo(a.right, y); ctx.stroke();
    });
    ctx.strokeStyle = '#000'; ctx.lineWidth = 1.6; ctx.setLineDash([2, 3]);
    const cx = scales.x.getPixelForValue(CURSOR_BAR);
    ctx.beginPath(); ctx.moveTo(cx, a.top); ctx.lineTo(cx, a.bottom + (o.cursorExtra || 0)); ctx.stroke();
    if (o.cursorY) {
      const cy = scales[o.cursorY].getPixelForValue(CURSOR_PRICE);
      ctx.beginPath(); ctx.moveTo(a.left, cy); ctx.lineTo(a.right, cy); ctx.stroke();
    }
    ctx.setLineDash([]);
    ctx.lineWidth = 1.8;
    ctx.strokeRect(a.left, a.top, a.right - a.left, a.bottom - a.top);
    ctx.fillStyle = '#000'; ctx.font = "15.7px 'DejaVu Sans'";
    ctx.textAlign = 'right'; ctx.textBaseline = 'middle';
    (o.edge || []).forEach(e => ctx.fillText(e.t, 3.5, scales[e.axis].getPixelForValue(e.v)));
    ctx.restore();
  }
};

function makePanel(id, top, bottom, last, leftPad, datasets, scales, decoOpts) {
  const padT = 12, padB = last ? 17 : 12, xh = last ? 6 : 0;
  const cv = document.getElementById(id);
  const h = bottom - top + padT + padB + xh;
  cv.width = 1787; cv.height = h;
  cv.style.width = '1787px'; cv.style.height = h + 'px';
  cv.style.top = (top - padT) + 'px';
  new Chart(cv, {
    type: 'line',
    data: { datasets },
    options: {
      responsive: false, animation: false, events: [],
      layout: { padding: { top: padT, bottom: padB, left: leftPad, right: 0 } },
      plugins: { legend: { display: false }, tooltip: { enabled: false }, deco: decoOpts },
      scales: Object.assign({ x: xScale(last) }, scales)
    },
    plugins: [deco]
  });
}

// 1. broker
makePanel('pBroker', 11, 108, false, 19, [
  { type: 'bar', yAxisID: 'y', order: 1, grouped: false,
    data: brokerCashLow.map((lo, i) => ({ x: i * BSTEP, y: [lo, brokerValue[i]] })),
    backgroundColor: CRIMSON, borderWidth: 0, barPercentage: 1, categoryPercentage: 1 },
  { type: 'line', yAxisID: 'y', order: 2, data: series(brokerValue, BSTEP),
    borderColor: '#0000ff', borderWidth: 1.6, pointRadius: 0 }
], { y: rightScale(9733, 10032.6, brokerTicks, GRID) }, {
  edge: [{ axis: 'y', v: 10000, t: '0' }, { axis: 'y', v: 9920, t: '2' },
         { axis: 'y', v: 9840, t: '4' }, { axis: 'y', v: 9760, t: '6' }]
});

// 2. trades
const tradeGrid = c => (c.tick && c.tick.value === 0 ? 'rgba(0,0,0,0)' : GRID);
makePanel('pTrades', 108, 206, false, 19, [
  { type: 'scatter', yAxisID: 'y', order: 2, data: negBar.map((b, i) => ({ x: b, y: negPnl[i] })),
    backgroundColor: '#ff0000', borderWidth: 0, pointRadius: 8 },
  { type: 'scatter', yAxisID: 'y', order: 1, data: posBar.map((b, i) => ({ x: b, y: posPnl[i] })),
    backgroundColor: '#0000ff', borderWidth: 0, pointRadius: 8 }
], { y: rightScale(-14.4, 17.7, tradeTicks, tradeGrid) }, {
  hlines: [{ axis: 'y', v: 0 }],
  edge: [{ axis: 'y', v: -10, t: '0' }]
});

// 3. price, buy/sell and volume
makePanel('pPrice', 206, 695, false, 0, [
  { type: 'bar', yAxisID: 'yv', order: 5, grouped: false,
    data: series(volume, STEP),
    backgroundColor: volume.map((_, i) => (volDir[i] === 'u' ? '#cc6073' : '#a6a6a6')),
    borderWidth: 0, barPercentage: 0.6, categoryPercentage: 1 },
  { type: 'scatter', yAxisID: 'y', order: 3, data: series(sellMark, STEP),
    pointStyle: 'triangle', rotation: 180, pointRadius: 8, backgroundColor: '#ff0000', borderWidth: 0 },
  { type: 'scatter', yAxisID: 'y', order: 2, data: series(buyMark, STEP),
    pointStyle: 'triangle', pointRadius: 8, backgroundColor: '#00ff00', borderWidth: 0 },
  { type: 'line', yAxisID: 'y', order: 1, data: series(close, STEP),
    borderColor: '#000', borderWidth: 3.6, pointRadius: 0, tension: 0 }
], {
  y: rightScale(-1.97, 190.6, priceTicks, null),
  yv: {
    position: 'left', min: 0, max: 14.26,
    afterBuildTicks: s => { s.ticks = volTicks.map(v => ({ value: v })); },
    ticks: { display: false },
    grid: { color: GRID, lineWidth: 1.2, tickLength: 5, tickColor: '#000', tickWidth: 1.3 },
    border: { display: false },
    afterFit: s => { s.width = 19; }
  }
}, {
  cursorY: 'y',
  edge: [100, 120, 140, 160, 180].map(v => ({ axis: 'y', v, t: '0' }))
});

// 4. stochastic
makePanel('pStoch', 695, 793, false, 19, [
  { type: 'line', yAxisID: 'y', data: series(stochK, STEP),
    borderColor: CRIMSON, borderWidth: 5, pointRadius: 0, tension: 0 }
], { y: rightScale(-4.4, 104.4, stochTicks, null) }, {
  hlines: [{ axis: 'y', v: 80 }, { axis: 'y', v: 20 }]
});

// 5. crossover
makePanel('pCross', 793, 891, true, 19, [
  { type: 'bar', yAxisID: 'y', grouped: false,
    data: crossLo.map((lo, i) => ({ x: i * BSTEP, y: lo == null ? null : [lo, crossHi[i]] })),
    backgroundColor: CRIMSON, borderWidth: 0, barPercentage: 0.9, categoryPercentage: 1 }
], { y: rightScale(-1.136, 1.09, crossTicks, null) }, {
  hlines: [{ axis: 'y', v: 1 }, { axis: 'y', v: -1 }],
  cursorExtra: 6
});
</script>
</body>
</html>
